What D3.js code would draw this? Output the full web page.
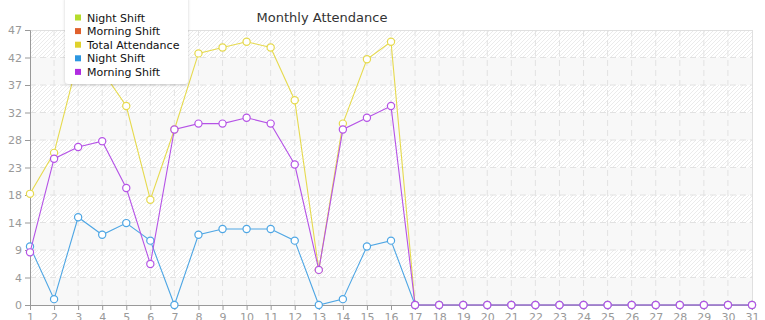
<!DOCTYPE html>
<html><head><meta charset="utf-8">
<script src="https://cdn.jsdelivr.net/npm/d3@7"></script>
<style>body{margin:0;background:#fff;}svg{display:block;font-family:"DejaVu Sans",sans-serif;}</style>
</head><body><svg id="c" width="765" height="320"></svg>
<script>
const days = d3.range(1, 32);
const totalAttendance = [19,26,42,40,34,18,30,43,44,45,44,35,6,31,42,45,0,0,0,0,0,0,0,0,0,0,0,0,0,0,0];
const nightShift      = [10,1,15,12,14,11,0,12,13,13,13,11,0,1,10,11,0,0,0,0,0,0,0,0,0,0,0,0,0,0,0];
const morningShift    = [9,25,27,28,20,7,30,31,31,32,31,24,6,30,32,34,0,0,0,0,0,0,0,0,0,0,0,0,0,0,0];
const yTicks = [0,4.7,9.4,14.1,18.8,23.5,28.2,32.9,37.6,42.3,47];
const legendNames = ["Night Shift","Morning Shift","Total Attendance","Night Shift","Morning Shift"];
const legendColors = ["#b5dc2c","#e0602c","#e0d22c","#2c96e0","#b02ce0"];
const lineSeries = [
  {name:"Total Attendance", values: totalAttendance, color:"#e6da4e"},
  {name:"Night Shift", values: nightShift, color:"#4ea6e4"},
  {name:"Morning Shift", values: morningShift, color:"#b553e6"}
];

const svg = d3.select("#c");
const L = 30, R = 752, T = 30, B = 305;
const x = d3.scaleLinear().domain([1, 31]).range([L, R]);
const y = d3.scaleLinear().domain([0, 47]).range([B, T]);

const defs = svg.append("defs");
const pat = defs.append("pattern").attr("id","hatch").attr("patternUnits","userSpaceOnUse")
  .attr("width",4).attr("height",4);
pat.append("rect").attr("width",4).attr("height",4).attr("fill","#fff");
pat.append("path").attr("d","M-1,1 l2,-2 M0,4 l4,-4 M3,5 l2,-2").attr("stroke","#e9e9e9").attr("stroke-width",0.9);

// bands
for (let i = 0; i < yTicks.length - 1; i++) {
  svg.append("rect").attr("x", L).attr("width", R - L)
    .attr("y", y(yTicks[i+1])).attr("height", y(yTicks[i]) - y(yTicks[i+1]))
    .attr("fill", i % 2 === 0 ? "#f8f8f8" : "url(#hatch)");
}
// grid
svg.append("g").selectAll("line").data(days.slice(1, -1)).join("line")
  .attr("x1", d => x(d)).attr("x2", d => x(d)).attr("y1", T).attr("y2", B)
  .attr("stroke","#e2e2e2").attr("stroke-dasharray","6,4");
svg.append("g").selectAll("line").data(yTicks.slice(1, -1)).join("line")
  .attr("x1", L).attr("x2", R).attr("y1", d => y(d)).attr("y2", d => y(d))
  .attr("stroke","#e2e2e2").attr("stroke-dasharray","6,4");
// border top/right
svg.append("line").attr("x1",L).attr("x2",R).attr("y1",T+0.5).attr("y2",T+0.5).attr("stroke","#e0e0e0");
svg.append("line").attr("x1",R+0.5).attr("x2",R+0.5).attr("y1",T).attr("y2",B).attr("stroke","#e0e0e0");

// axes
const yAxis = d3.axisLeft(y).tickValues(yTicks).tickFormat(d => Math.floor(d)).tickSize(5).tickPadding(3);
const gy = svg.append("g").attr("transform", `translate(${L},0)`).call(yAxis);
const xAxis = d3.axisBottom(x).tickValues(days).tickFormat(d3.format("d")).tickSize(5).tickPadding(3);
const gx = svg.append("g").attr("transform", `translate(0,${B})`).call(xAxis);
[gx, gy].forEach(g => {
  g.select(".domain").attr("stroke","#999");
  g.selectAll(".tick line").attr("stroke","#999");
  g.selectAll("text").attr("fill","#999").attr("font-size","11px").attr("font-family","DejaVu Sans, sans-serif");
});

// lines
const line = d3.line().x((d,i) => x(days[i])).y(d => y(d));
lineSeries.forEach(s => {
  svg.append("path").datum(s.values).attr("d", line).attr("fill","none")
    .attr("stroke", s.color).attr("stroke-width", 1.1);
  svg.append("g").selectAll("circle").data(s.values).join("circle")
    .attr("cx", (d,i) => x(days[i])).attr("cy", d => y(d)).attr("r", 3.6)
    .attr("fill","#fff").attr("stroke", s.color).attr("stroke-width", 1.2);
});

// title
svg.append("text").attr("x", 322).attr("y", 22).attr("text-anchor","middle")
  .attr("font-size","13px").attr("fill","#333").text("Monthly Attendance");

// legend
const lg = svg.append("g");
defs.append("filter").attr("id","sh").append("feDropShadow")
  .attr("dx",0).attr("dy",1).attr("stdDeviation",1.5).attr("flood-color","#000").attr("flood-opacity",0.18);
lg.append("rect").attr("x", 65).attr("y", -5).attr("width", 123).attr("height", 89).attr("rx", 4)
  .attr("fill","#fff").attr("filter","url(#sh)");
legendNames.forEach((n, i) => {
  const cy = 17.5 + i * 13.6;
  lg.append("rect").attr("x", 75).attr("y", cy - 3).attr("width", 6).attr("height", 6).attr("fill", legendColors[i]);
  lg.append("text").attr("x", 87).attr("y", cy + 4).attr("font-size","11px").attr("fill","#111").text(n);
});
</script></body></html>
